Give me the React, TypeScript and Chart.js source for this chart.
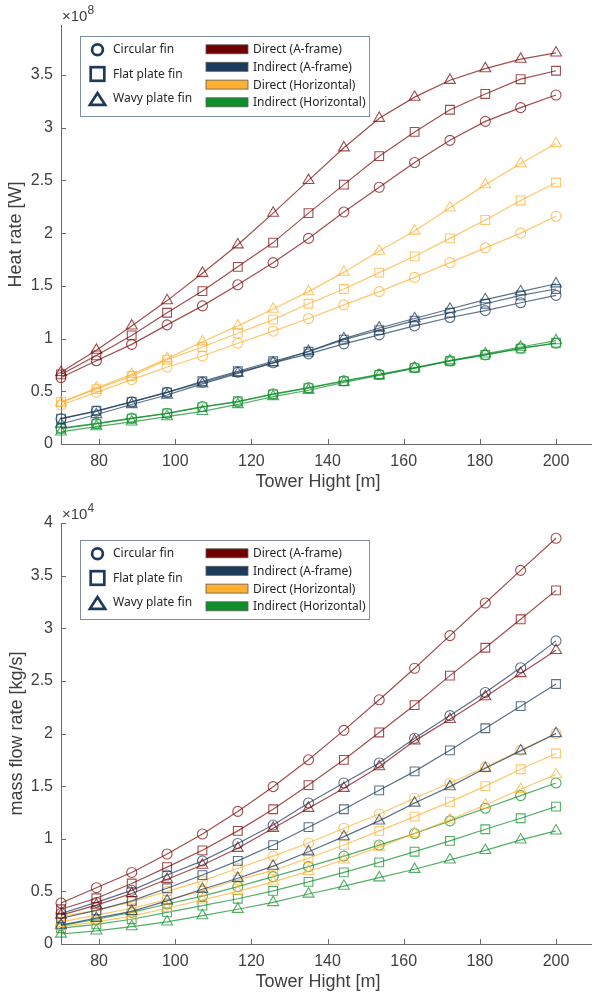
import React, { useEffect, useRef } from 'react';
import { Chart, registerables } from 'chart.js';
Chart.register(...registerables);

// ---------- data ----------
const towerHeights = [70, 79.29, 88.57, 97.86, 107.14, 116.43, 125.71, 135, 144.29, 153.57, 162.86, 172.14, 181.43, 190.71, 200];
const xTickValues = [80, 100, 120, 140, 160, 180, 200];
const heatTickValues = [0, 0.5, 1, 1.5, 2, 2.5, 3, 3.5];
const flowTickValues = [0, 0.5, 1, 1.5, 2, 2.5, 3, 3.5, 4];

const configNames = ['Direct (A-frame)', 'Indirect (A-frame)', 'Direct (Horizontal)', 'Indirect (Horizontal)'];
const finNames = ['Circular fin', 'Flat plate fin', 'Wavy plate fin'];
const configSwatch = ['#6e0000', '#1b3a5c', '#ffb030', '#0e8f2a'];
const configLine = ['rgba(122,0,0,0.7)', 'rgba(27,58,92,0.72)', 'rgba(255,176,48,0.72)', 'rgba(14,143,42,0.72)'];
const finStyles = ['circle', 'rect', 'triangle'];
const finRadius = [5, 6.2, 6.3];

// Heat rate [W] x1e8
const heatDirectAframeCircular = [0.63, 0.79, 0.945, 1.13, 1.31, 1.51, 1.72, 1.95, 2.2, 2.435, 2.67, 2.88, 3.06, 3.19, 3.31];
const heatDirectAframeFlat = [0.66, 0.84, 1.03, 1.245, 1.45, 1.68, 1.91, 2.19, 2.46, 2.73, 2.96, 3.17, 3.32, 3.46, 3.54];
const heatDirectAframeWavy = [0.68, 0.89, 1.12, 1.36, 1.62, 1.89, 2.19, 2.5, 2.81, 3.09, 3.29, 3.45, 3.56, 3.65, 3.71];
const heatIndirectAframeCircular = [0.24, 0.31, 0.4, 0.49, 0.585, 0.68, 0.77, 0.855, 0.95, 1.035, 1.12, 1.2, 1.265, 1.34, 1.41];
const heatIndirectAframeFlat = [0.24, 0.315, 0.4, 0.49, 0.595, 0.69, 0.785, 0.875, 0.99, 1.08, 1.17, 1.245, 1.33, 1.41, 1.47];
const heatIndirectAframeWavy = [0.19, 0.28, 0.375, 0.465, 0.57, 0.67, 0.77, 0.88, 1.0, 1.1, 1.19, 1.28, 1.37, 1.445, 1.52];
const heatDirectHorizCircular = [0.37, 0.49, 0.61, 0.73, 0.835, 0.955, 1.07, 1.19, 1.32, 1.445, 1.58, 1.72, 1.86, 2.0, 2.16];
const heatDirectHorizFlat = [0.4, 0.52, 0.645, 0.8, 0.92, 1.05, 1.18, 1.33, 1.47, 1.625, 1.78, 1.95, 2.125, 2.31, 2.48];
const heatDirectHorizWavy = [0.39, 0.53, 0.66, 0.81, 0.97, 1.12, 1.28, 1.445, 1.63, 1.83, 2.02, 2.24, 2.46, 2.66, 2.85];
const heatIndirectHorizCircular = [0.15, 0.196, 0.245, 0.29, 0.355, 0.4, 0.475, 0.535, 0.6, 0.66, 0.725, 0.79, 0.845, 0.91, 0.955];
const heatIndirectHorizFlat = [0.145, 0.19, 0.24, 0.29, 0.35, 0.405, 0.47, 0.53, 0.595, 0.655, 0.72, 0.785, 0.845, 0.905, 0.96];
const heatIndirectHorizWavy = [0.115, 0.165, 0.21, 0.26, 0.31, 0.375, 0.45, 0.51, 0.585, 0.65, 0.72, 0.79, 0.855, 0.92, 0.98];

// Mass flow rate [kg/s] x1e4
const flowDirectAframeCircular = [0.39, 0.535, 0.68, 0.855, 1.045, 1.26, 1.495, 1.75, 2.03, 2.32, 2.62, 2.93, 3.24, 3.55, 3.855];
const flowDirectAframeFlat = [0.33, 0.435, 0.575, 0.73, 0.89, 1.075, 1.28, 1.51, 1.75, 2.01, 2.27, 2.55, 2.815, 3.085, 3.36];
const flowDirectAframeWavy = [0.275, 0.37, 0.48, 0.615, 0.75, 0.91, 1.1, 1.29, 1.48, 1.685, 1.93, 2.135, 2.35, 2.57, 2.79];
const flowIndirectAframeCircular = [0.29, 0.395, 0.51, 0.655, 0.79, 0.955, 1.13, 1.34, 1.53, 1.72, 1.955, 2.17, 2.39, 2.625, 2.88];
const flowIndirectAframeFlat = [0.245, 0.32, 0.41, 0.53, 0.655, 0.79, 0.94, 1.11, 1.28, 1.46, 1.64, 1.84, 2.05, 2.26, 2.47];
const flowIndirectAframeWavy = [0.18, 0.245, 0.31, 0.41, 0.52, 0.625, 0.74, 0.877, 1.02, 1.17, 1.34, 1.495, 1.67, 1.835, 2.0];
const flowDirectHorizCircular = [0.26, 0.32, 0.4, 0.5, 0.6, 0.72, 0.835, 0.96, 1.1, 1.235, 1.385, 1.53, 1.68, 1.84, 2.0];
const flowDirectHorizFlat = [0.21, 0.275, 0.34, 0.42, 0.505, 0.61, 0.7, 0.815, 0.94, 1.075, 1.21, 1.35, 1.5, 1.66, 1.81];
const flowDirectHorizWavy = [0.165, 0.21, 0.265, 0.34, 0.42, 0.5, 0.59, 0.69, 0.8, 0.92, 1.05, 1.18, 1.32, 1.47, 1.61];
const flowIndirectHorizCircular = [0.175, 0.235, 0.3, 0.38, 0.455, 0.545, 0.64, 0.735, 0.835, 0.94, 1.05, 1.17, 1.29, 1.41, 1.53];
const flowIndirectHorizFlat = [0.15, 0.187, 0.235, 0.3, 0.365, 0.43, 0.505, 0.59, 0.68, 0.776, 0.877, 0.98, 1.09, 1.195, 1.305];
const flowIndirectHorizWavy = [0.095, 0.125, 0.165, 0.21, 0.27, 0.33, 0.395, 0.475, 0.55, 0.63, 0.71, 0.8, 0.89, 0.99, 1.075];

const heatSeries = [
  [heatDirectAframeCircular, heatDirectAframeFlat, heatDirectAframeWavy],
  [heatIndirectAframeCircular, heatIndirectAframeFlat, heatIndirectAframeWavy],
  [heatDirectHorizCircular, heatDirectHorizFlat, heatDirectHorizWavy],
  [heatIndirectHorizCircular, heatIndirectHorizFlat, heatIndirectHorizWavy],
];
const flowSeries = [
  [flowDirectAframeCircular, flowDirectAframeFlat, flowDirectAframeWavy],
  [flowIndirectAframeCircular, flowIndirectAframeFlat, flowIndirectAframeWavy],
  [flowDirectHorizCircular, flowDirectHorizFlat, flowDirectHorizWavy],
  [flowIndirectHorizCircular, flowIndirectHorizFlat, flowIndirectHorizWavy],
];

const TICK_FONT = '"Liberation Sans", Arial, sans-serif';
const LEGEND_FONT = '"Noto Sans", sans-serif';
const TEXT_COLOR = '#404040';
const AXIS_COLOR = '#6a6a6a';

function buildDatasets(series: number[][][]) {
  const ds: any[] = [];
  series.forEach((group, ci) => {
    group.forEach((vals, fi) => {
      ds.push({
        label: configNames[ci] + ' - ' + finNames[fi],
        data: towerHeights.map((x, i) => ({ x, y: vals[i] })),
        borderColor: configLine[ci],
        borderWidth: 1.2,
        pointStyle: finStyles[fi],
        pointRadius: finRadius[fi],
        pointBorderWidth: 1.1,
        pointBorderColor: configLine[ci],
        pointBackgroundColor: 'rgba(0,0,0,0)',
        fill: false,
        tension: 0,
        clip: false,
      });
    });
  });
  return ds;
}

function drawLegend(ctx: CanvasRenderingContext2D, left: number, top: number, h: number) {
  const w = 289;
  ctx.save();
  ctx.fillStyle = '#ffffff';
  ctx.fillRect(left, top, w, h);
  ctx.strokeStyle = '#7d8ea6';
  ctx.lineWidth = 1;
  ctx.strokeRect(left + 0.5, top + 0.5, w, h);
  const mc = '#1b3a5c';
  const cx = left + 17.5;
  ctx.strokeStyle = mc;
  ctx.lineWidth = 2.7;
  ctx.beginPath();
  ctx.arc(cx, top + 13.8, 5.4, 0, Math.PI * 2);
  ctx.stroke();
  ctx.strokeRect(cx - 6.8, top + 38 - 6.8, 13.6, 13.6);
  ctx.beginPath();
  ctx.moveTo(cx, top + 57);
  ctx.lineTo(cx + 7.6, top + 68.8);
  ctx.lineTo(cx - 7.6, top + 68.8);
  ctx.closePath();
  ctx.stroke();
  ctx.fillStyle = '#262626';
  ctx.font = '12px ' + LEGEND_FONT;
  ctx.textAlign = 'left';
  ctx.textBaseline = 'middle';
  const finRows = [13.8, 38.2, 63];
  finNames.forEach((n, i) => ctx.fillText(n, left + 33, top + finRows[i]));
  const rows = [13.3, 30.8, 48.6, 66.3];
  configNames.forEach((n, i) => {
    ctx.fillStyle = configSwatch[i];
    ctx.fillRect(left + 126, top + rows[i] - 4.5, 42, 9);
    ctx.strokeStyle = '#5a5a5a';
    ctx.lineWidth = 0.8;
    ctx.strokeRect(left + 126, top + rows[i] - 4.5, 42, 9);
    ctx.fillStyle = '#262626';
    ctx.fillText(n, left + 173, top + rows[i] + 0.5);
  });
  ctx.restore();
}

const decorPlugin = {
  id: 'matlabDecor',
  afterDraw(chart: any, _args: any, opts: any) {
    const { ctx, chartArea: ca, scales } = chart;
    const x = scales.x, y = scales.y;
    ctx.save();
    ctx.strokeStyle = AXIS_COLOR;
    ctx.lineWidth = 1;
    x.ticks.forEach((t: any) => {
      const px = Math.round(x.getPixelForValue(t.value)) + 0.5;
      ctx.beginPath();
      ctx.moveTo(px, ca.bottom);
      ctx.lineTo(px, ca.bottom - 5);
      ctx.stroke();
    });
    y.ticks.forEach((t: any) => {
      const py = Math.round(y.getPixelForValue(t.value)) + 0.5;
      ctx.beginPath();
      ctx.moveTo(ca.left, py);
      ctx.lineTo(ca.left + 5, py);
      ctx.stroke();
    });
    // exponent
    ctx.fillStyle = TEXT_COLOR;
    ctx.textAlign = 'left';
    ctx.textBaseline = 'alphabetic';
    ctx.font = '15px ' + TICK_FONT;
    ctx.fillText('\u00d710', ca.left + 1, ca.top - 4);
    const w = ctx.measureText('\u00d710').width;
    ctx.font = '12px ' + TICK_FONT;
    ctx.fillText(opts.exponent, ca.left + 1 + w, ca.top - 11);
    // axis titles
    ctx.font = '18px ' + TICK_FONT;
    ctx.textAlign = 'center';
    ctx.textBaseline = 'middle';
    ctx.fillText('Tower Hight [m]', opts.xTitleX, ca.bottom + opts.xTitleDy);
    ctx.save();
    ctx.translate(opts.yTitleX, (ca.top + ca.bottom) / 2);
    ctx.rotate(-Math.PI / 2);
    ctx.fillText(opts.yTitle, 0, 0);
    ctx.restore();
    drawLegend(ctx, 80, opts.legendTop, opts.legendH);
    ctx.restore();
  },
};

function makeConfig(series: number[][][], yTicks: number[], yMax: number, topPad: number, xAxisH: number, decor: any) {
  return {
    type: 'line' as const,
    data: { datasets: buildDatasets(series) },
    plugins: [decorPlugin],
    options: {
      animation: false,
      responsive: false,
      maintainAspectRatio: false,
      layout: { autoPadding: false, padding: { top: topPad, left: 0, right: 0, bottom: 0 } },
      plugins: { legend: { display: false }, tooltip: { enabled: false }, matlabDecor: decor },
      scales: {
        x: {
          type: 'linear',
          min: 70,
          max: 209.45,
          afterBuildTicks: (s: any) => { s.ticks = xTickValues.map((v) => ({ value: v })); },
          afterFit: (s: any) => { s.height = xAxisH; s.paddingLeft = 0; s.paddingRight = 0; },
          grid: { display: true, drawOnChartArea: false, drawTicks: false },
          border: { display: true, color: AXIS_COLOR, width: 1 },
          ticks: { color: TEXT_COLOR, font: { family: TICK_FONT, size: 16 }, padding: 8, maxRotation: 0, autoSkip: false },
        },
        y: {
          type: 'linear',
          min: 0,
          max: yMax,
          afterBuildTicks: (s: any) => { s.ticks = yTicks.map((v) => ({ value: v })); },
          afterFit: (s: any) => { s.width = 61; },
          grid: { display: true, drawOnChartArea: false, drawTicks: false },
          border: { display: true, color: AXIS_COLOR, width: 1 },
          ticks: { color: TEXT_COLOR, font: { family: TICK_FONT, size: 16 }, padding: 8, callback: (v: any) => String(Math.round(v * 10) / 10) },
        },
      },
    },
  };
}

function ChartCanvas({ config, width, height, top }: { config: any; width: number; height: number; top: number }) {
  const ref = useRef<HTMLCanvasElement | null>(null);
  useEffect(() => {
    if (!ref.current) return;
    const chart = new Chart(ref.current, config);
    return () => chart.destroy();
  }, [config]);
  return (
    <canvas
      ref={ref}
      width={width}
      height={height}
      style={{ position: 'absolute', left: 0, top, width, height, display: 'block' }}
    />
  );
}

const heatConfig = makeConfig(heatSeries, heatTickValues, 3.974, 25, 56, {
  exponent: '8', yTitle: 'Heat rate [W]', yTitleX: 16, xTitleX: 318, xTitleDy: 38, legendTop: 36, legendH: 80,
});
const flowConfig = makeConfig(flowSeries, flowTickValues, 4, 33, 53, {
  exponent: '4', yTitle: 'mass flow rate [kg/s]', yTitleX: 17, xTitleX: 318, xTitleDy: 38, legendTop: 50, legendH: 79,
});

export default function App() {
  return (
    <div style={{ position: 'absolute', left: 0, top: 0, width: 592, height: 997, background: '#ffffff', overflow: 'hidden' }}>
      <ChartCanvas config={heatConfig} width={592} height={500} top={0} />
      <ChartCanvas config={flowConfig} width={592} height={507} top={490} />
    </div>
  );
}
